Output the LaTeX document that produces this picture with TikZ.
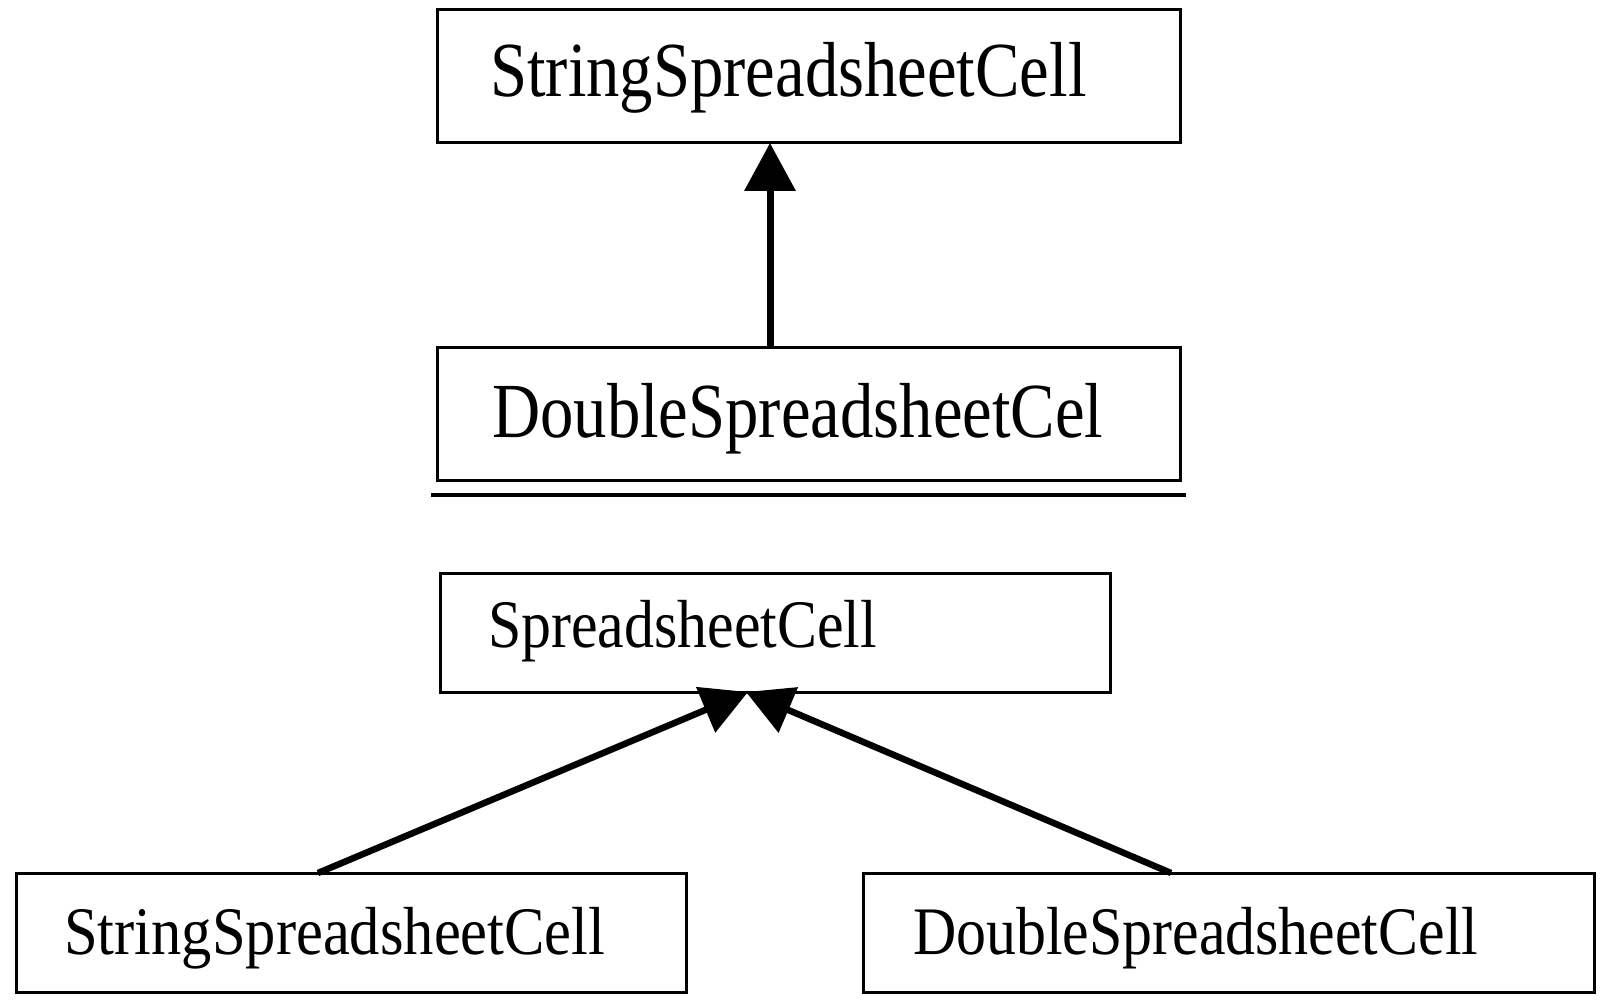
\documentclass[tikz,border=0pt]{standalone}
\usepackage{fontspec}
\setmainfont{Liberation Serif}
\usepackage{graphicx}
\usetikzlibrary{arrows.meta}
\tikzset{
  box/.style={draw=black, line width=3pt, fill=white, rectangle, inner sep=0pt},
  bigtxt/.style={inner sep=0pt, anchor=base west, font=\fontsize{78}{90}\selectfont},
  smalltxt/.style={inner sep=0pt, anchor=base west, font=\fontsize{68}{80}\selectfont},
  inherit/.style={line width=7pt, -{Triangle[length=48pt, width=50pt]}},
  inheritb/.style={line width=6.5pt, -{Triangle[length=46pt, width=48pt]}},
}
\begin{document}
\begin{tikzpicture}[x=1pt, y=-1pt]
\useasboundingbox (0,0) rectangle (1600,1000);
% top part
\node[box, minimum width=743pt, minimum height=133pt] (ssc) at (808.5,76.5) {};
\node[bigtxt] (ssct) at (490,97) {\scalebox{0.855}[1]{StringSpreadsheetCell}};
\node[box, minimum width=743pt, minimum height=133pt] (dsc) at (808.5,413.5) {};
\node[bigtxt] (dsct) at (492,437) {\scalebox{0.855}[1]{DoubleSpreadsheetCel}};
\coordinate (dscA) at (770,347);
\coordinate (sscA) at (770,143);
\draw[inherit] (dscA) -- (sscA);
% separator
\coordinate (sepL) at (431,495);
\coordinate (sepR) at (1186,495);
\draw[line width=3.5pt] (sepL) -- (sepR);
% bottom part
\node[box, minimum width=670pt, minimum height=119pt] (sc) at (775,632.5) {};
\node[smalltxt] (sct) at (488,647) {\scalebox{0.88}[1]{SpreadsheetCell}};
\node[box, minimum width=670pt, minimum height=119pt] (ssc2) at (351,932.5) {};
\node[smalltxt] (ssc2t) at (64,954) {\scalebox{0.89}[1]{StringSpreadsheetCell}};
\node[box, minimum width=731pt, minimum height=119pt] (dsc2) at (1228.5,932.5) {};
\node[smalltxt] (dsc2t) at (913,954) {\scalebox{0.88}[1]{DoubleSpreadsheetCell}};
\coordinate (l0) at (318,873);
\coordinate (l1) at (748,692);
\coordinate (r0) at (1171,873);
\coordinate (r1) at (746,692);
\draw[inheritb] (l0) -- (l1);
\draw[inheritb] (r0) -- (r1);
\end{tikzpicture}
\end{document}
